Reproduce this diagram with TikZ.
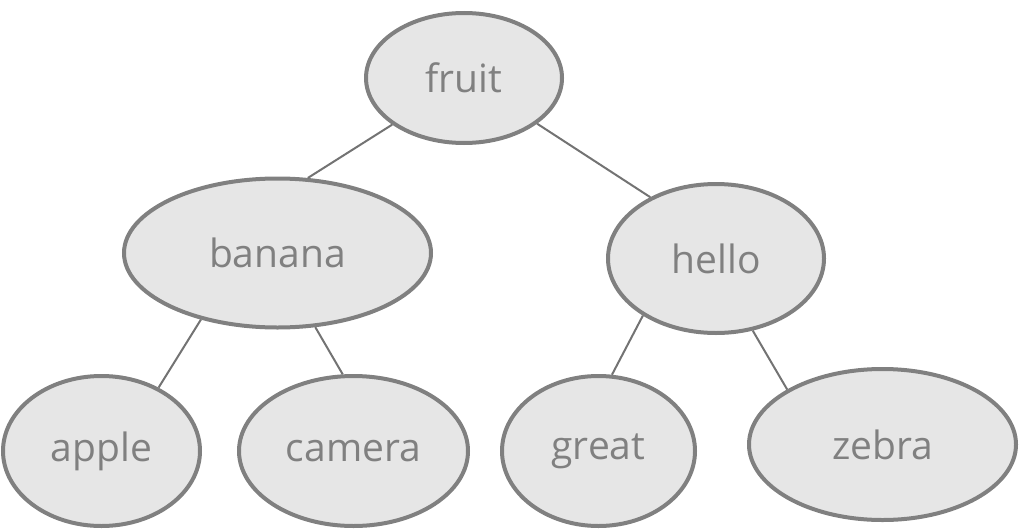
\documentclass[tikz,border=0pt]{standalone}
\usepackage{fontspec}
\setmainfont{Open Sans}
\usepackage{tikz}
\usetikzlibrary{shapes.geometric}
\definecolor{wordfill}{HTML}{E6E6E6}
\definecolor{wordline}{HTML}{808080}
\definecolor{linkline}{HTML}{737373}
\tikzset{
    word/.style={ellipse, draw=wordline, fill=wordfill, line width=4pt, inner sep=0pt,
                 text=wordline, font=\fontsize{39}{46}\selectfont},
    link/.style={draw=linkline, line width=2pt}
}

\begin{document}
\begin{tikzpicture}[x=1pt, y=-1pt]
    \useasboundingbox (0,0) rectangle (1019,530);

    % Raiz
    \node[word, minimum width=196pt, minimum height=130pt] (fruit) at (464,78) {fruit};

    % Segundo nivel
    \node[word, minimum width=307pt, minimum height=149pt] (banana) at (277.5,253) {banana};
    \node[word, minimum width=216pt, minimum height=149pt] (hello) at (716,258.5) {hello};

    % Hojas
    \node[word, minimum width=197pt, minimum height=150pt] (apple) at (101.5,451) {apple};
    \node[word, minimum width=229pt, minimum height=150pt] (camera) at (353.5,451) {camera};
    \node[word, minimum width=193pt, minimum height=150pt] (great) at (598.5,451) {great};
    \node[word, minimum width=267pt, minimum height=151pt] (zebra) at (882.5,444.5) {zebra};

    % Aristas
    \draw[link] (fruit.213.7) -- (banana.68);
    \draw[link] (fruit.328.8) -- (hello.137);
    \draw[link] (banana.221) -- (apple.48);
    \draw[link] (banana.297.8) -- (camera.98);
    \draw[link] (hello.218.7) -- (great.80.4);
    \draw[link] (hello.297) -- (zebra.150);
\end{tikzpicture}
\end{document}
